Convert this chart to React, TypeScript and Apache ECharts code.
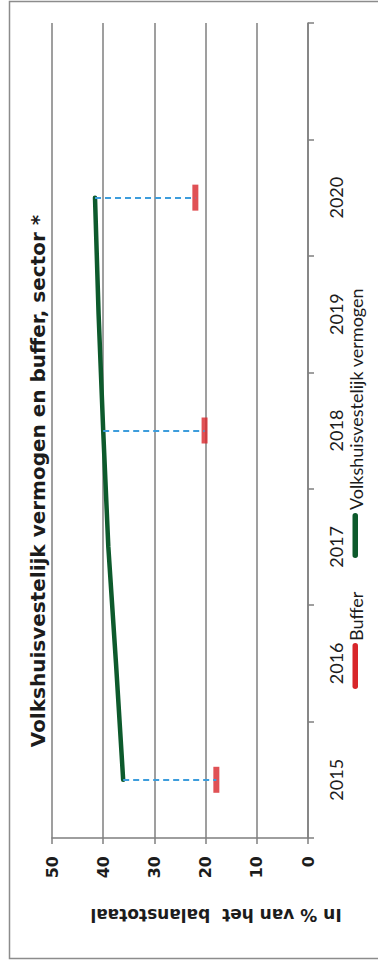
import React, { useEffect, useRef } from "react";
import * as echarts from "echarts";

const years = ["2015", "2016", "2017", "2018", "2019", "2020", ""];
const vermogen = [36.1, 37.5, 39.0, 40.0, 40.9, 41.6];
const bufferYears = ["2015", "2018", "2020"];
const buffer = [17.9, 20.2, 22.0];
const valueMin = 0;
const valueMax = 50;
const valueStep = 10;

const titleText = "Volkshuisvestelijk vermogen en buffer, sector *";
const axisName = "In % van het  balanstotaal";
const legendNames = ["Buffer", "Volkshuisvestelijk vermogen"];

const GREEN = "#0d5a2c";
const RED = "#d8262a";
const BLUE = "#3d9ddc";
const GRID = "#7f7f7f";
const TEXT = "#1c1c1c";

export default function App() {
  const ref = useRef<HTMLDivElement>(null);
  useEffect(() => {
    document.body.style.margin = "0";
    const chart = echarts.init(ref.current!, null, { renderer: "svg" });
    const lineData = vermogen.map((v, i) => [v, years[i]]);
    const bufferData = bufferYears.map((y, i) => [buffer[i], y]);
    const dropData = bufferYears.map((y, i) => [
      { coord: [vermogen[years.indexOf(y)], y] },
      { coord: [buffer[i], y] },
    ]);
    chart.setOption({
      animation: false,
      backgroundColor: "#ffffff",
      grid: { left: 52, right: 70, top: 23, bottom: 126 },
      xAxis: {
        type: "value",
        min: valueMin,
        max: valueMax,
        interval: valueStep,
        inverse: true,
        position: "bottom",
        axisLine: { show: true, lineStyle: { color: GRID, width: 1.5 } },
        axisTick: { show: true, length: 6, lineStyle: { color: GRID, width: 1.5 } },
        splitLine: { show: true, lineStyle: { color: GRID, width: 1.5 } },
        axisLabel: {
          rotate: 90,
          margin: 18,
          fontFamily: "DejaVu Sans",
          fontWeight: "bold",
          fontSize: 16,
          color: TEXT,
        },
      },
      yAxis: {
        type: "category",
        data: years,
        position: "right",
        boundaryGap: true,
        axisLine: { show: true, onZero: false, lineStyle: { color: GRID, width: 1.5 } },
        axisTick: { show: true, length: 6, lineStyle: { color: GRID, width: 1.5 } },
        splitLine: { show: false },
        axisLabel: {
          rotate: 90,
          margin: 19,
          fontFamily: "Lato",
          fontSize: 18,
          color: TEXT,
        },
      },
      series: [
        {
          type: "line",
          name: legendNames[1],
          data: lineData,
          symbol: "none",
          showSymbol: false,
          lineStyle: { color: GREEN, width: 4.5, cap: "round" },
          z: 3,
        },
        {
          type: "scatter",
          name: legendNames[0],
          data: bufferData,
          symbol: "rect",
          symbolSize: [6, 26],
          itemStyle: { color: RED },
          z: 4,
          markLine: {
            silent: true,
            symbol: ["none", "none"],
            label: { show: false },
            lineStyle: { color: BLUE, type: [6, 4], width: 1.8 },
            data: dropData,
          },
        },
      ],
      graphic: [
        {
          type: "rect",
          shape: { x: 9.5, y: 1.5, width: 400, height: 957 },
          style: { fill: "none", stroke: "#8c8c8c", lineWidth: 1.5 },
          silent: true,
        },
        {
          type: "text",
          x: 38,
          y: 481,
          rotation: Math.PI / 2,
          style: {
            text: titleText,
            fontFamily: "DejaVu Sans",
            fontWeight: "bold",
            fontSize: 20,
            fill: TEXT,
            align: "center",
            verticalAlign: "middle",
          },
        },
        {
          type: "text",
          x: 216,
          y: 915,
          rotation: Math.PI,
          style: {
            text: axisName,
            fontFamily: "DejaVu Sans",
            fontWeight: "bold",
            fontSize: 17,
            fill: TEXT,
            align: "center",
            verticalAlign: "middle",
          },
        },
        {
          type: "rect",
          shape: { x: 352.5, y: 643, width: 5.5, height: 46, r: 2.75 },
          style: { fill: RED },
        },
        {
          type: "text",
          x: 356,
          y: 641,
          rotation: Math.PI / 2,
          style: {
            text: legendNames[0],
            fontFamily: "Lato",
            fontSize: 18,
            fill: TEXT,
            align: "left",
            verticalAlign: "middle",
          },
        },
        {
          type: "rect",
          shape: { x: 352.5, y: 513, width: 5.5, height: 45, r: 2.75 },
          style: { fill: GREEN },
        },
        {
          type: "text",
          x: 356,
          y: 510,
          rotation: Math.PI / 2,
          style: {
            text: legendNames[1],
            fontFamily: "Lato",
            fontSize: 18,
            fill: TEXT,
            align: "left",
            verticalAlign: "middle",
          },
        },
      ],
    });
    return () => chart.dispose();
  }, []);
  return <div ref={ref} style={{ width: 378, height: 964 }} />;
}
